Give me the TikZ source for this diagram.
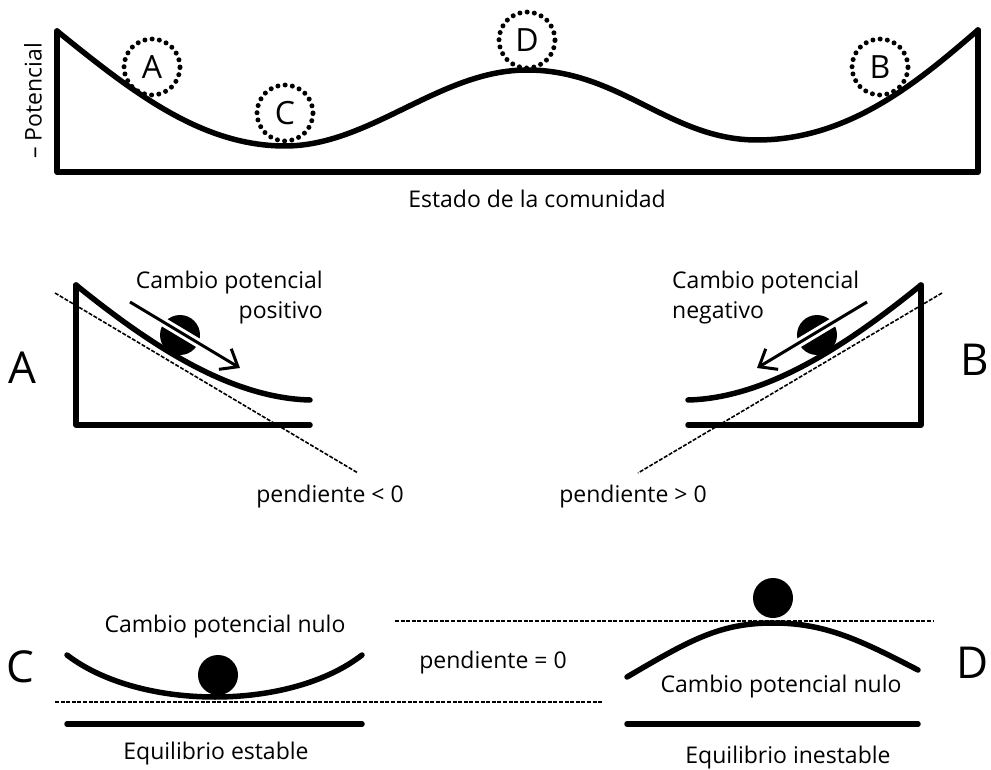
\documentclass[tikz,border=0pt]{standalone}
\usepackage{fontspec}
\setmainfont{Open Sans}
\usetikzlibrary{arrows.meta,calc}
\begin{document}
\begin{tikzpicture}[x=1pt,y=-1pt,
  thickln/.style={line width=5.5pt, line cap=round, line join=round},
  dashln/.style={line width=1.6pt, dash pattern=on 4pt off 1.6pt},
  ball/.style={circle, fill=black, minimum size=40pt, inner sep=0pt},
  dotcirc/.style={circle, draw, line width=5pt, dash pattern=on 0pt off 7.3pt, line cap=round, minimum size=56pt, inner sep=0pt, font=\fontsize{32}{38}\selectfont},
  lbl/.style={font=\fontsize{23}{30}\selectfont, inner sep=0pt},
  big/.style={font=\fontsize{44}{50}\selectfont, inner sep=0pt},
  halo/.style={line width=9pt, white},
  arr/.style={line width=3pt, -{Straight Barb[length=15pt,width=24pt]}}]
\useasboundingbox (0,0) rectangle (991,770);
% ---------- top panel ----------
\coordinate (tl) at (57,31);
\coordinate (bl) at (57,172);
\coordinate (br) at (978,172);
\coordinate (tr) at (978,30);
\coordinate (m1) at (285,146);
\coordinate (pk) at (527,70);
\coordinate (m2) at (757,140);
\draw[thickln] (tl) -- (bl) -- (br) -- (tr);
\draw[thickln] (tl) .. controls (130,90) and (200,146) .. (m1)
  .. controls (370,146) and (440,70) .. (pk)
  .. controls (620,70) and (670,140) .. (m2)
  .. controls (850,140) and (920,80) .. (tr);
\node[dotcirc] (cA) at (152,67) {A};
\node[dotcirc] (cC) at (285,113) {C};
\node[dotcirc] (cD) at (527,40) {D};
\node[dotcirc] (cB) at (880,67) {B};
\node[lbl, rotate=90] (ylab) at (33,101) {– Potencial};
\node[lbl] (xlab) at (537,199) {Estado de la comunidad};
% ---------- panel A ----------
\coordinate (aT) at (76,285);
\coordinate (aB) at (76,425);
\coordinate (aR) at (310,425);
\coordinate (aE) at (310,400);
\draw[thickln] (aT) -- (aB) -- (aR);
\draw[thickln] (aT) .. controls (150,345) and (230,398) .. (aE);
\coordinate (ad1) at (55,293);
\coordinate (ad2) at (358,473);
\draw[dashln] (ad1) -- (ad2);
\node[ball] (ballA) at (180,335) {};
\coordinate (aa1) at (130,302);
\coordinate (aa2) at (240,368);
\draw[halo] (aa1) -- ($(aa1)!0.85!(aa2)$);
\draw[arr] (aa1) -- (aa2);
\node[lbl, anchor=east, align=right] (txtA) at (323,298) {Cambio potencial\\positivo};
\node[big] (letA) at (22,368) {A};
\node[lbl] (pA) at (330,497) {pendiente < 0};
% ---------- panel B ----------
\coordinate (bT) at (921,285);
\coordinate (bB) at (921,425);
\coordinate (bL) at (688,425);
\coordinate (bE) at (688,400);
\draw[thickln] (bT) -- (bB) -- (bL);
\draw[thickln] (bT) .. controls (847,345) and (767,398) .. (bE);
\coordinate (bd1) at (942,293);
\coordinate (bd2) at (638,473);
\draw[dashln] (bd1) -- (bd2);
\node[ball] (ballB) at (817,335) {};
\coordinate (ba1) at (867,302);
\coordinate (ba2) at (757,368);
\draw[halo] (ba1) -- ($(ba1)!0.85!(ba2)$);
\draw[arr] (ba1) -- (ba2);
\node[lbl, anchor=west, align=left] (txtB) at (672,298) {Cambio potencial\\negativo};
\node[big] (letB) at (975,360) {B};
\node[lbl] (pB) at (633,497) {pendiente > 0};
% ---------- panel C ----------
\coordinate (cL) at (67,655);
\coordinate (cR) at (362,655);
\draw[thickln] (cL) .. controls (140,711) and (290,711) .. (cR);
\node[ball] (ballC) at (218,675) {};
\coordinate (cd1) at (55,702);
\coordinate (cd2) at (602,702);
\draw[dashln] (cd1) -- (cd2);
\coordinate (cb1) at (67,724);
\coordinate (cb2) at (362,724);
\draw[thickln] (cb1) -- (cb2);
\node[lbl] (txtC) at (225,627) {Cambio potencial nulo};
\node[lbl] (eqC) at (216,754) {Equilibrio estable};
\node[big] (letC) at (20,667) {C};
% ---------- panel D ----------
\coordinate (dL) at (627,677);
\coordinate (dP) at (773,623);
\coordinate (dR) at (918,670);
\draw[thickln] (dL) .. controls (690,640) and (720,623) .. (dP)
  .. controls (825,623) and (860,640) .. (dR);
\node[ball] (ballD) at (773,598) {};
\coordinate (dd1) at (395,621);
\coordinate (dd2) at (933,621);
\draw[dashln] (dd1) -- (dd2);
\coordinate (db1) at (627,724);
\coordinate (db2) at (918,724);
\draw[thickln] (db1) -- (db2);
\node[lbl] (txtD) at (781,687) {Cambio potencial nulo};
\node[lbl] (eqD) at (788,758) {Equilibrio inestable};
\node[big] (letD) at (973,663) {D};
\node[lbl] (p0) at (493,663) {pendiente = 0};
\end{tikzpicture}
\end{document}
